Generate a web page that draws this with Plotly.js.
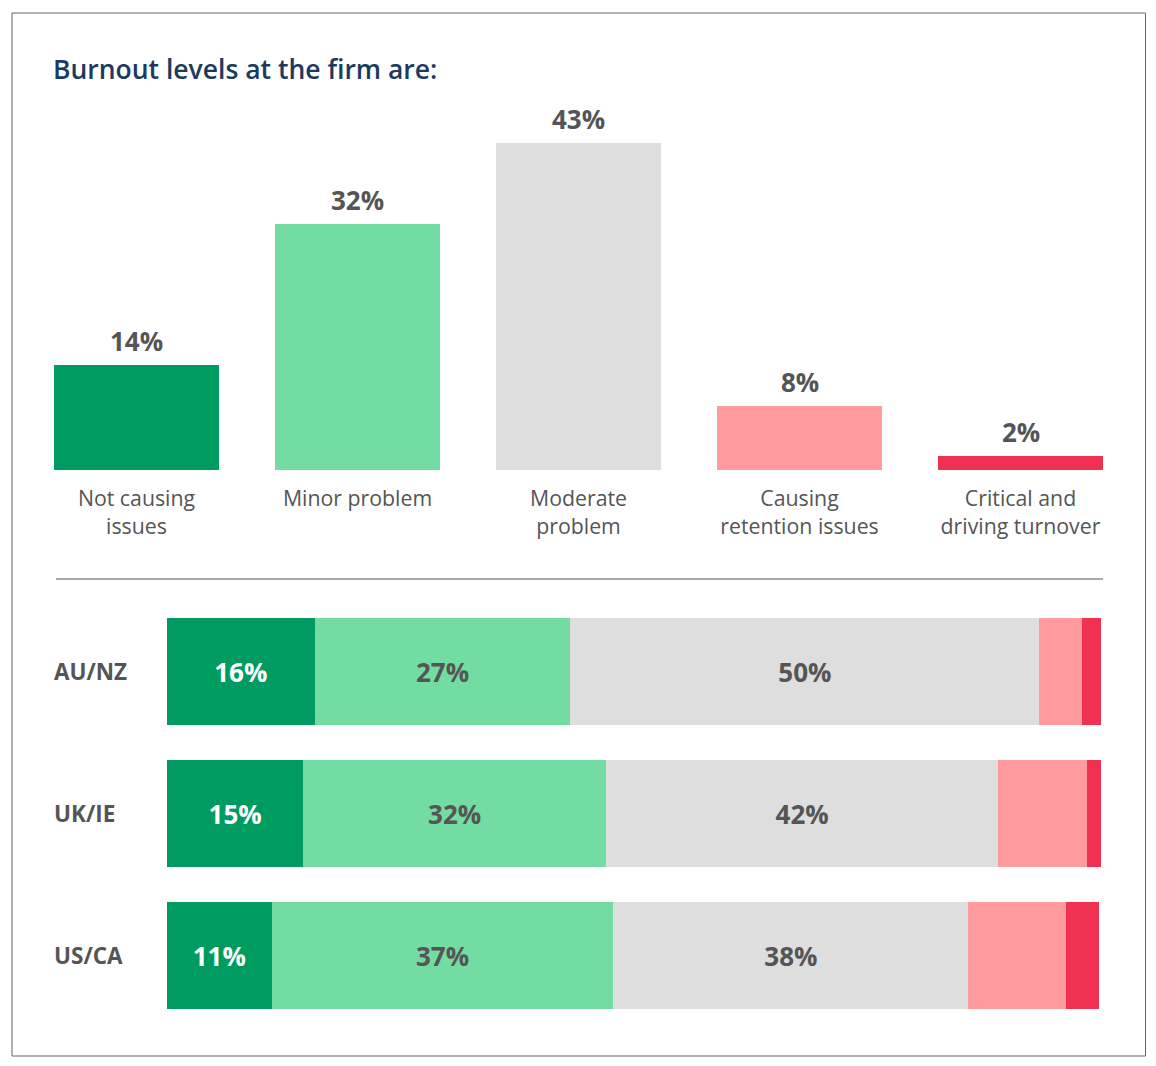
<!DOCTYPE html>
<html>
<head>
<meta charset="utf-8">
<script src="https://cdn.plot.ly/plotly-3.0.1.min.js"></script>
<style>html,body{margin:0;padding:0;background:#fff;}#chart{width:1156px;height:1066px;}</style>
</head>
<body>
<div id="chart"></div>
<script>
// ---- Data ----
const titleText = "Burnout levels at the firm are:";
const levels = ["Not causing<br>issues", "Minor problem", "Moderate<br>problem", "Causing<br>retention issues", "Critical and<br>driving turnover"];
const overallValues = [13.8, 32.4, 43.0, 8.4, 1.8];
const regions = ["AU/NZ", "UK/IE", "US/CA"];
const notCausing = [15.8, 14.6, 11.2];
const minorProblem = [27.4, 32.4, 36.6];
const moderateProblem = [50.2, 42.0, 38.0];
const retentionIssues = [4.6, 9.5, 10.4];
const criticalTurnover = [2.0, 1.5, 3.6];

// ---- Styles ----
const colors = ["#009B60", "#72DCA2", "#DEDEDE", "#FF9B9E", "#F13152"];
const textGrey = "#555555";
const font = "Open Sans, sans-serif";

const traces = [];
traces.push({
  type: "bar", x: levels, y: overallValues, xaxis: "x", yaxis: "y",
  marker: {color: colors}, hoverinfo: "skip", showlegend: false
});

const regionSeries = [notCausing, minorProblem, moderateProblem, retentionIssues, criticalTurnover];
regionSeries.forEach((vals, i) => {
  const showText = i < 3;
  traces.push({
    type: "bar", orientation: "h", x: vals, y: regions, xaxis: "x2", yaxis: "y2",
    marker: {color: colors[i]}, hoverinfo: "skip", showlegend: false,
    text: showText ? vals.map(v => Math.round(v) + "%") : vals.map(() => ""),
    texttemplate: showText ? "%{text}" : "",
    textposition: "inside", insidetextanchor: "middle", constraintext: "none",
    insidetextfont: {family: font, size: 26, weight: 700, color: i === 0 ? "#ffffff" : textGrey}
  });
});

const annotations = [];
levels.forEach((c, i) => {
  annotations.push({
    xref: "x", yref: "y", x: c, y: overallValues[i], yanchor: "middle", xanchor: "center",
    yshift: 24, text: Math.round(overallValues[i]) + "%", showarrow: false,
    font: {family: font, size: 26, weight: 700, color: textGrey}
  });
});
regions.forEach((r) => {
  annotations.push({
    xref: "paper", yref: "y2", x: 52/1156, y: r, xanchor: "left", yanchor: "middle",
    text: r, showarrow: false, font: {family: font, size: 22.5, weight: 700, color: textGrey}
  });
});

const layout = {
  width: 1156, height: 1066,
  margin: {l: 0, r: 0, t: 0, b: 0},
  paper_bgcolor: "#ffffff", plot_bgcolor: "#ffffff",
  font: {family: font, color: textGrey},
  title: {
    text: titleText, xref: "paper", yref: "container",
    x: 53/1156, xanchor: "left", y: 1 - 70/1066, yanchor: "middle",
    font: {family: font, size: 26.5, weight: 600, color: "#1B3A60"}
  },
  barmode: "stack",
  bargap: 0.2534,
  xaxis: {
    domain: [26/1156, 1131/1156], range: [-0.5, 4.5], type: "category",
    showgrid: false, zeroline: false, showline: false, ticks: "",
    tickfont: {family: font, size: 21.3, color: textGrey}, ticklabelstandoff: 14,
    fixedrange: true
  },
  yaxis: {
    domain: [1 - 470/1066, 1 - 90/1066], range: [0, 50],
    showgrid: false, zeroline: false, showline: false, showticklabels: false, fixedrange: true
  },
  xaxis2: {
    domain: [167/1156, 1101/1156], range: [0, 100], anchor: "y2",
    showgrid: false, zeroline: false, showline: false, showticklabels: false, fixedrange: true
  },
  yaxis2: {
    domain: [1 - 1026.5/1066, 1 - 600.5/1066], anchor: "x2", type: "category",
    autorange: "reversed",
    showgrid: false, zeroline: false, showline: false, showticklabels: false, fixedrange: true
  },
  annotations: annotations,
  shapes: [
    {type: "rect", xref: "paper", yref: "paper", x0: 12/1156, x1: 1145.5/1156, y0: 1 - 1056/1066, y1: 1 - 13/1066,
     line: {color: "#666666", width: 1}, fillcolor: "rgba(0,0,0,0)"},
    {type: "line", xref: "paper", yref: "paper", x0: 56/1156, x1: 1103/1156, y0: 1 - 579/1066, y1: 1 - 579/1066,
     line: {color: "#555555", width: 1}}
  ]
};

Plotly.newPlot("chart", traces, layout, {displayModeBar: false, staticPlot: true});
</script>
</body>
</html>
